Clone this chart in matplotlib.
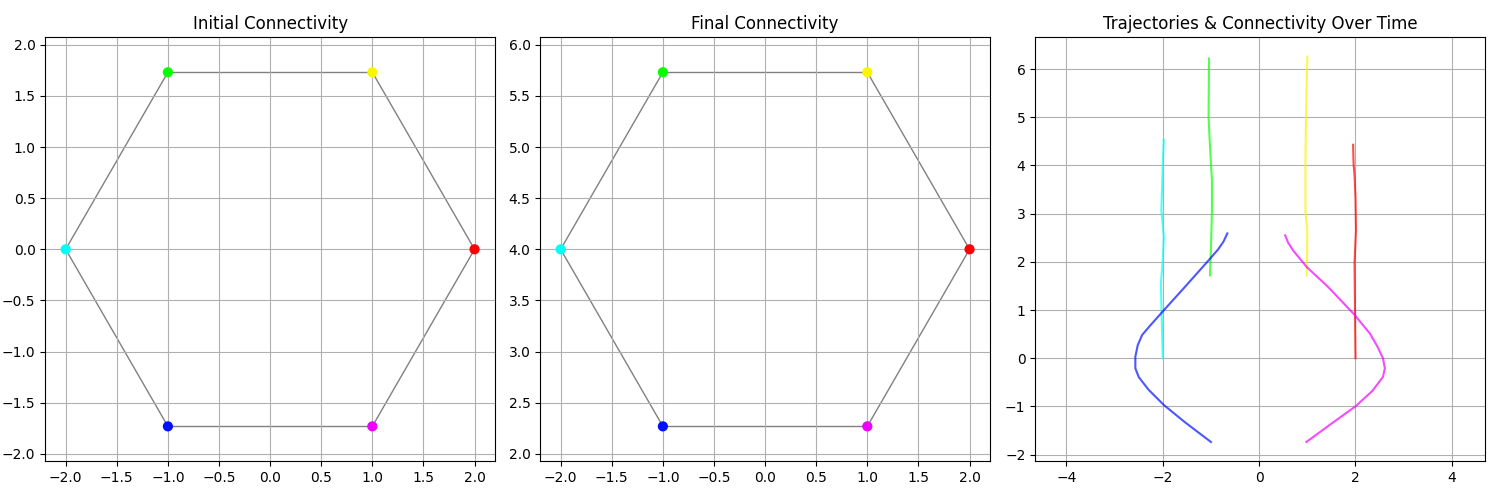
import numpy as np
import matplotlib
matplotlib.use("Agg")
import matplotlib.pyplot as plt

# Agent positions (hexagon)
init_x = [2.0, 1.0, -1.0, -2.0, -1.0, 1.0]
init_y = [0.0, 1.732, 1.732, 0.0, -1.732, -1.732]
final_x = [2.0, 1.0, -1.0, -2.0, -1.0, 1.0]
final_y = [4.0, 5.732, 5.732, 4.0, 2.268, 2.268]
edges = [(0, 1), (1, 2), (2, 3), (3, 4), (4, 5), (5, 0)]

# Trajectories
traj_red_x = [2.0, 1.99, 1.98, 2.01, 2.0, 1.98, 1.96, 1.95]
traj_red_y = [0.0, 1.0, 1.97, 2.66, 3.34, 3.8, 4.03, 4.43]
traj_yellow_x = [0.99, 1.0, 0.96, 0.96, 0.97, 0.98, 1.0]
traj_yellow_y = [1.72, 2.66, 3.03, 4.03, 4.8, 5.41, 6.26]
traj_green_x = [-1.02, -1.0, -0.98, -0.98, -1.02, -1.05, -1.04]
traj_green_y = [1.72, 2.31, 3.07, 3.69, 4.38, 5.0, 6.22]
traj_cyan_x = [-2.0, -2.02, -2.04, -2.0, -1.98, -2.03, -2.0, -1.98]
traj_cyan_y = [0.0, 0.72, 1.55, 2.03, 2.52, 3.07, 4.03, 4.53]
traj_blue_x = [-1.0, -1.54, -1.98, -2.30, -2.50, -2.57, -2.57, -2.52, -2.43,
               -2.26, -2.01, -1.54, -1.05, -0.85, -0.74, -0.66]
traj_blue_y = [-1.74, -1.33, -0.97, -0.65, -0.39, -0.21, 0.03, 0.27, 0.48,
               0.68, 0.96, 1.48, 2.03, 2.26, 2.42, 2.59]
traj_magenta_x = [0.98, 1.43, 2.0, 2.35, 2.57, 2.61, 2.57, 2.45, 2.30,
                  1.98, 1.43, 0.99, 0.71, 0.60, 0.54]
traj_magenta_y = [-1.74, -1.41, -1.0, -0.68, -0.39, -0.21, 0.0, 0.25, 0.51,
                  0.9, 1.48, 1.89, 2.23, 2.40, 2.55]

trajs = [
    (traj_red_x, traj_red_y),
    (traj_yellow_x, traj_yellow_y),
    (traj_green_x, traj_green_y),
    (traj_cyan_x, traj_cyan_y),
    (traj_blue_x, traj_blue_y),
    (traj_magenta_x, traj_magenta_y),
]

cmap = plt.get_cmap("hsv")
colors = [cmap(i / 6) for i in range(6)]

fig, axes = plt.subplots(1, 3, figsize=(15, 5), dpi=100)

def draw_graph(ax, xs, ys, title):
    for i, j in edges:
        ax.plot([xs[i], xs[j]], [ys[i], ys[j]], color="gray", lw=1, zorder=1)
    ax.scatter(xs, ys, c=colors, s=40, zorder=3)
    ax.set_title(title)
    ax.grid(True)
    ax.axis("equal")

draw_graph(axes[0], init_x, init_y, "Initial Connectivity")
draw_graph(axes[1], final_x, final_y, "Final Connectivity")

ax = axes[2]
for (tx, ty), c in zip(trajs, colors):
    ax.plot(tx, ty, color=c, alpha=0.7, lw=1.5)
ax.set_title("Trajectories & Connectivity Over Time")
ax.grid(True)
ax.axis("equal")

fig.tight_layout()
fig.savefig("out.png")
